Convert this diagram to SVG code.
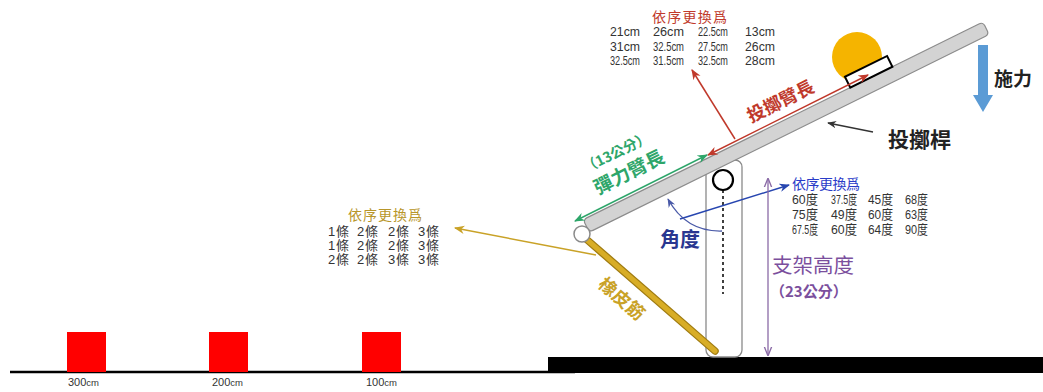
<svg xmlns="http://www.w3.org/2000/svg" width="1043" height="392" viewBox="0 0 1043 392">
  <defs>
    <style>
      .t { font-family: "Liberation Sans", "Noto Sans CJK TC", sans-serif; }
      .cjk { font-family: "Noto Sans CJK TC", sans-serif; }
      .row { font-family: "Liberation Sans", "Noto Sans CJK TC", sans-serif; font-size: 13px; fill: #333; }
      .hdr { font-family: "Noto Sans CJK TC", sans-serif; font-size: 14px; }
    </style>
    <marker id="aRed" viewBox="0 0 10 10" refX="9" refY="5" markerWidth="7" markerHeight="7" orient="auto-start-reverse">
      <path d="M0,1 L10,5 L0,9 L3,5 Z" fill="#c0392b"/>
    </marker>
    <marker id="aGreen" viewBox="0 0 10 10" refX="9" refY="5" markerWidth="7" markerHeight="7" orient="auto-start-reverse">
      <path d="M0,1 L10,5 L0,9 L3,5 Z" fill="#2ea66a"/>
    </marker>
    <marker id="aBlue" viewBox="0 0 10 10" refX="9" refY="5" markerWidth="7" markerHeight="7" orient="auto-start-reverse">
      <path d="M0,1 L10,5 L0,9 L3,5 Z" fill="#2746b0"/>
    </marker>
    <marker id="aNavy" viewBox="0 0 10 10" refX="9" refY="5" markerWidth="7" markerHeight="7" orient="auto-start-reverse">
      <path d="M0,1 L10,5 L0,9 L3,5 Z" fill="#4a5aa8"/>
    </marker>
    <marker id="aGold" viewBox="0 0 10 10" refX="9" refY="5" markerWidth="7" markerHeight="7" orient="auto-start-reverse">
      <path d="M0,1 L10,5 L0,9 L3,5 Z" fill="#c9a227"/>
    </marker>
    <marker id="aPurple" viewBox="0 0 10 10" refX="9" refY="5" markerWidth="7" markerHeight="7" orient="auto-start-reverse">
      <path d="M0,1 L10,5 L0,9" fill="none" stroke="#8a6aa6" stroke-width="1.5"/>
    </marker>
    <marker id="aBlack" viewBox="0 0 10 10" refX="9" refY="5" markerWidth="7" markerHeight="7" orient="auto-start-reverse">
      <path d="M0,1 L10,5 L0,9 L3,5 Z" fill="#333"/>
    </marker>
  </defs>

  <rect width="1043" height="392" fill="#fff"/>

  <!-- ground and launch platform -->
  <g id="ground">
    <line x1="10" y1="372" x2="575" y2="372" stroke="#000" stroke-width="2.5"/>
    <rect x="548" y="357" width="495" height="16" fill="#000"/>
  </g>

  <!-- targets -->
  <g id="targets" class="t">
    <rect x="67" y="332" width="39" height="40" fill="#ff0000"/>
    <rect x="209" y="332" width="39" height="40" fill="#ff0000"/>
    <rect x="362" y="332" width="39" height="40" fill="#ff0000"/>
    <text x="68" y="386" font-size="11" fill="#333">300<tspan font-size="9.5">cm</tspan></text>
    <text x="212" y="386" font-size="11" fill="#333">200<tspan font-size="9.5">cm</tspan></text>
    <text x="366" y="386" font-size="11" fill="#333">100<tspan font-size="9.5">cm</tspan></text>
  </g>

  <!-- support post -->
  <g id="support">
    <rect x="706" y="160" width="36" height="197" rx="7" fill="#fff" stroke="#8a8a8a" stroke-width="1.3"/>
    <line x1="723" y1="190" x2="723" y2="294" stroke="#000" stroke-width="1.5" stroke-dasharray="3,3"/>
  </g>

  <!-- rubber band -->
  <g id="rubber-band">
    <line x1="585" y1="238" x2="715" y2="351" stroke="#a07c12" stroke-width="7.5" stroke-linecap="round"/>
    <line x1="585" y1="238" x2="715" y2="351" stroke="#d8ad26" stroke-width="5" stroke-linecap="round"/>
    <text class="cjk" x="0" y="0" font-size="18" font-weight="bold" fill="#c9a227" transform="translate(597,286) rotate(41)">橡皮筋</text>
  </g>

  <!-- ball -->
  <g id="ball">
    <circle cx="857" cy="57" r="25" fill="#f5b400"/>
  </g>

  <!-- throwing rod with cup -->
  <g id="rod" transform="translate(588,225) rotate(-26.3)">
    <rect x="-2" y="-7" width="446" height="14" rx="4" fill="#d3d3d3" stroke="#8c8c8c" stroke-width="1.2"/>
    <rect x="296" y="-19" width="47" height="12" fill="#fff" stroke="#000" stroke-width="2"/>
  </g>
  <g id="hinge">
    <circle cx="582" cy="234" r="8" fill="#fff" stroke="#8a8a8a" stroke-width="1.5"/>
  </g>
  <g id="pivot">
    <circle cx="723" cy="180" r="10" fill="#fff" stroke="#000" stroke-width="2.2"/>
  </g>

  <!-- applied force -->
  <g id="force">
    <path d="M978,45 L988,45 L988,95 L993,95 L983,112 L973,95 L978,95 Z" fill="#5b9bd5"/>
    <text class="cjk" x="994" y="86" font-size="19" font-weight="bold" fill="#222">施力</text>
  </g>

  <!-- rod label -->
  <g id="rod-label">
    <text class="cjk" x="888" y="147" font-size="21" font-weight="bold" fill="#222">投擲桿</text>
  </g>

  <!-- throwing arm length -->
  <g id="throw-arm">
    <text class="cjk" x="0" y="0" font-size="18" font-weight="bold" fill="#c0392b" transform="translate(751,123) rotate(-26.3)">投擲臂長</text>
  </g>

  <!-- elastic arm length -->
  <g id="elastic-arm">
    <text class="cjk" x="0" y="0" font-size="14" font-weight="bold" fill="#2ea66a" transform="translate(586,173) rotate(-26.3)">（13公分）</text>
    <text class="cjk" x="0" y="0" font-size="19" font-weight="bold" fill="#2ea66a" transform="translate(598,195) rotate(-26.3)">彈力臂長</text>
  </g>

  <!-- angle -->
  <g id="angle">
    <text class="cjk" x="660" y="247" font-size="20" font-weight="bold" fill="#2a3790">角度</text>
  </g>

  <!-- support height -->
  <g id="height">
    <text class="cjk" x="772" y="273" font-size="20.5" fill="#7b4f9d">支架高度</text>
    <text class="cjk" x="770" y="297" font-size="15" font-weight="bold" fill="#7b4f9d">（23公分）</text>
  </g>

  <!-- arm length options -->
  <g id="arm-options">
    <text class="hdr" x="652" y="22" textLength="75" fill="#c0392b">依序更換爲</text>
    <text class="row" x="610" y="36" textLength="30" lengthAdjust="spacingAndGlyphs">21cm</text>
    <text class="row" x="653" y="36" textLength="31" lengthAdjust="spacingAndGlyphs">26cm</text>
    <text class="row" x="698" y="36" textLength="30" lengthAdjust="spacingAndGlyphs">22.5cm</text>
    <text class="row" x="745" y="36" textLength="30" lengthAdjust="spacingAndGlyphs">13cm</text>
    <text class="row" x="610" y="51" textLength="30" lengthAdjust="spacingAndGlyphs">31cm</text>
    <text class="row" x="653" y="51" textLength="31" lengthAdjust="spacingAndGlyphs">32.5cm</text>
    <text class="row" x="698" y="51" textLength="30" lengthAdjust="spacingAndGlyphs">27.5cm</text>
    <text class="row" x="745" y="51" textLength="30" lengthAdjust="spacingAndGlyphs">26cm</text>
    <text class="row" x="610" y="65" textLength="30" lengthAdjust="spacingAndGlyphs">32.5cm</text>
    <text class="row" x="653" y="65" textLength="31" lengthAdjust="spacingAndGlyphs">31.5cm</text>
    <text class="row" x="698" y="65" textLength="30" lengthAdjust="spacingAndGlyphs">32.5cm</text>
    <text class="row" x="745" y="65" textLength="30" lengthAdjust="spacingAndGlyphs">28cm</text>
  </g>

  <!-- rubber band options -->
  <g id="band-options">
    <text class="hdr" x="348" y="220" textLength="74" fill="#b8962a">依序更換爲</text>
    <text class="row" x="328" y="236" textLength="21">1條</text>
    <text class="row" x="357" y="236" textLength="21">2條</text>
    <text class="row" x="388" y="236" textLength="21">2條</text>
    <text class="row" x="418" y="236" textLength="21">3條</text>
    <text class="row" x="328" y="250" textLength="21">1條</text>
    <text class="row" x="357" y="250" textLength="21">2條</text>
    <text class="row" x="388" y="250" textLength="21">2條</text>
    <text class="row" x="418" y="250" textLength="21">3條</text>
    <text class="row" x="328" y="264" textLength="21">2條</text>
    <text class="row" x="357" y="264" textLength="21">2條</text>
    <text class="row" x="388" y="264" textLength="21">3條</text>
    <text class="row" x="418" y="264" textLength="21">3條</text>
  </g>

  <!-- angle options -->
  <g id="angle-options">
    <text class="hdr" x="792" y="189" font-size="13.5" textLength="68" fill="#2a3cc8">依序更換爲</text>
    <text class="row" x="792" y="204" textLength="26" lengthAdjust="spacingAndGlyphs">60度</text>
    <text class="row" x="831" y="204" textLength="26" lengthAdjust="spacingAndGlyphs">37.5度</text>
    <text class="row" x="868" y="204" textLength="25" lengthAdjust="spacingAndGlyphs">45度</text>
    <text class="row" x="905" y="204" textLength="23" lengthAdjust="spacingAndGlyphs">68度</text>
    <text class="row" x="792" y="219" textLength="26" lengthAdjust="spacingAndGlyphs">75度</text>
    <text class="row" x="831" y="219" textLength="26" lengthAdjust="spacingAndGlyphs">49度</text>
    <text class="row" x="868" y="219" textLength="25" lengthAdjust="spacingAndGlyphs">60度</text>
    <text class="row" x="905" y="219" textLength="23" lengthAdjust="spacingAndGlyphs">63度</text>
    <text class="row" x="792" y="234" textLength="26" lengthAdjust="spacingAndGlyphs">67.5度</text>
    <text class="row" x="831" y="234" textLength="26" lengthAdjust="spacingAndGlyphs">60度</text>
    <text class="row" x="868" y="234" textLength="25" lengthAdjust="spacingAndGlyphs">64度</text>
    <text class="row" x="905" y="234" textLength="23" lengthAdjust="spacingAndGlyphs">90度</text>
  </g>

  <!-- connectors -->
  <g id="connectors" fill="none">
    <line x1="735" y1="139" x2="692" y2="70" stroke="#c0392b" stroke-width="1.5" marker-end="url(#aRed)"/>
    <line x1="708" y1="155" x2="868" y2="75" stroke="#c0392b" stroke-width="1.5" marker-start="url(#aRed)" marker-end="url(#aRed)"/>
    <line x1="575" y1="221" x2="707" y2="155" stroke="#2ea66a" stroke-width="1.5" marker-start="url(#aGreen)" marker-end="url(#aGreen)"/>
    <line x1="873" y1="132" x2="828" y2="123" stroke="#333" stroke-width="1.3" marker-end="url(#aBlack)"/>
    <line x1="596" y1="255" x2="455" y2="228" stroke="#c9a227" stroke-width="1.5" marker-end="url(#aGold)"/>
    <line x1="680" y1="219" x2="789" y2="185" stroke="#2746b0" stroke-width="1.5" marker-end="url(#aBlue)"/>
    <path d="M722,231 Q686,232 668,199" stroke="#4a5aa8" stroke-width="1.3" marker-end="url(#aNavy)"/>
    <line x1="768" y1="179" x2="768" y2="355" stroke="#8a6aa6" stroke-width="1.3" marker-start="url(#aPurple)" marker-end="url(#aPurple)"/>
  </g>
</svg>
